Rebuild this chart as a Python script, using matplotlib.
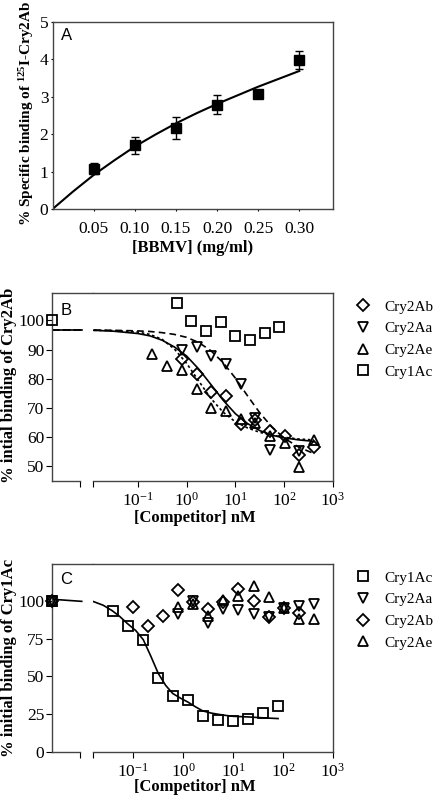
import numpy as np
import matplotlib.pyplot as plt

plt.rcParams['font.family'] = 'Liberation Serif'
plt.rcParams['mathtext.fontset'] = 'custom'
plt.rcParams['mathtext.rm'] = 'Liberation Serif'
plt.rcParams['mathtext.bf'] = 'Liberation Serif:bold'
plt.rcParams['mathtext.default'] = 'regular'
plt.rcParams['axes.linewidth'] = 1.0
plt.rcParams['axes.edgecolor'] = '#444444'

nan = np.nan

# ---------------- panel A data ----------------
bbmv = [0.05, 0.10, 0.15, 0.20, 0.25, 0.30]
binding = [1.08, 1.70, 2.16, 2.79, 3.07, 3.98]
binding_err = [0.15, 0.23, 0.29, 0.26, 0.0, 0.24]
fitA_x = [0.0, 0.025, 0.05, 0.075, 0.10, 0.125, 0.15, 0.175, 0.20, 0.225, 0.25, 0.275, 0.30]
fitA_y = [0.0, 0.47, 0.91, 1.30, 1.67, 1.99, 2.29, 2.56, 2.81, 3.04, 3.27, 3.48, 3.69]

# ---------------- panel B data ----------------
concB = [0.2, 0.4, 0.8, 1.6, 3.2, 6.4, 12.8, 25.6, 51.2, 102.4, 204.8, 409.6]
B_cry2ab = [nan, nan, 86.6, 81.6, 75.3, 74.0, 64.6, 66.0, 62.1, 60.3, 53.7, 56.6]
B_cry2aa = [nan, nan, 89.7, 90.9, 87.7, 85.2, 78.1, 66.4, 55.7, nan, 55.2, nan]
B_cry2ae = [88.6, 84.2, 82.9, 76.6, 69.8, 68.8, 66.3, 64.8, 60.3, 58.0, 49.8, 58.9]
concB_1ac = [0.625, 1.25, 2.5, 5, 10, 20, 40, 80]
B_cry1ac = [105.9, 99.7, 96.2, 99.4, 94.5, 93.4, 95.8, 97.6]
B_control = 100.0

# fitted curves (log10 nM)
fitB_logx = [-1.9, -1.5, -1.0, -0.75, -0.5, -0.25, 0, 0.25, 0.5, 0.75, 1.0, 1.25, 1.5, 1.75, 2.0, 2.3, 2.61]
fitB_2ab = [96.6, 96.3, 95.5, 94.7, 93.2, 90.9, 87.8, 83.3, 78.0, 72.6, 68.0, 64.6, 62.2, 60.6, 59.7, 59.0, 58.5]
fitB_2aa = [96.7, 96.6, 96.4, 96.2, 95.8, 95.2, 94.2, 92.4, 89.6, 85.5, 80.2, 74.1, 68.3, 63.4, 59.6, 56.5, 54.3]
fitB_2ae = [96.6, 96.5, 96.0, 95.2, 93.5, 90.2, 85.3, 79.2, 73.2, 68.5, 65.2, 63.1, 61.6, 60.6, 59.9, 59.3, 59.0]
fitB_top = 96.7

# ---------------- panel C data ----------------
concC_1ac = [0.039, 0.078, 0.156, 0.3125, 0.625, 1.25, 2.5, 5, 10, 20, 40, 80]
C_cry1ac = [93.4, 83.4, 73.8, 48.8, 37.3, 34.7, 23.6, 21.0, 20.3, 21.9, 25.6, 30.3]
concC = [0.1, 0.2, 0.4, 0.8, 1.6, 3.2, 6.4, 12.8, 25.6, 51.2, 102.4, 204.8, 409.6]
C_cry2ab = [95.6, 83.2, 89.9, 107.1, 99.4, 94.3, 99.4, 107.5, 100.0, 89.0, 95.0, 91.6, nan]
C_cry2aa = [nan, nan, nan, 91.2, 100.0, 85.4, 94.3, 93.8, 91.2, 89.0, 95.0, 96.5, 97.8]
C_cry2ae = [nan, nan, nan, 95.6, 97.8, 90.0, 100.4, 103.1, 109.7, 102.6, 95.0, 87.7, 87.7]
C_control = 100.0
fitC_logx = [-1.80, -1.6, -1.42, -1.27, -1.12, -0.95, -0.8, -0.65, -0.5, -0.35, -0.21, -0.05,
             0.09, 0.25, 0.39, 0.55, 0.69, 0.85, 1.0, 1.29, 1.6, 1.9]
fitC_1ac = [99.5, 97.0, 93.4, 89.6, 85.0, 80.3, 74.3, 63.5, 52.0, 44.0, 38.7, 35.5,
            33.1, 29.8, 27.2, 25.8, 25.0, 24.2, 23.6, 23.2, 22.6, 22.1]
fitC_left = [101.0, 99.6]

W, H = 433, 797
fig = plt.figure(figsize=(W / 100, H / 100), dpi=100)


def box(l, t, r, b):
    return [l / W, 1 - b / H, (r - l) / W, (b - t) / H]


tick_fs = 12.5
leg_fs = 11
label_fs = 12
mk = dict(mfc='none', mec='k', mew=1.3, ls='none', color='k')
dec_ticks = [0.1, 1, 10, 100, 1000]
dec_labels = ['$10^{-1}$', '$10^{0}$', '$10^{1}$', '$10^{2}$', '$10^{3}$']

# ================= A =================
axA = fig.add_axes(box(52.6, 22, 333, 209))
axA.errorbar(bbmv, binding, yerr=binding_err, fmt='s', color='k', ms=6.5,
             capsize=3, elinewidth=1, capthick=1)
axA.plot(fitA_x, fitA_y, 'k-', lw=1.5)
axA.set_xlim(0, 0.341)
axA.set_ylim(0, 5)
axA.set_xticks(bbmv)
axA.set_xticklabels(['%.2f' % v for v in bbmv])
axA.set_yticks(range(6))
axA.tick_params(axis='x', length=1.5, labelsize=tick_fs, pad=7)
axA.tick_params(axis='y', length=1.5, labelsize=tick_fs, pad=1.5)
axA.set_xlabel('[BBMV] (mg/ml)', fontsize=label_fs, fontweight='bold', va='center')
axA.xaxis.set_label_coords(0.5, (209 - 248) / 187)
axA.text(0.03, 0.97, 'A', transform=axA.transAxes, fontsize=12,
         family='Liberation Sans', va='top')
fig.text(27 / W, 1 - 113 / H, r'% Specific binding of $^{125}$I-Cry2Ab', rotation=90,
         ha='center', va='center', fontsize=11, fontweight='bold')


def broken_axes(top, bottom, ylim, log_left):
    axL = fig.add_axes(box(52, top, 93.3, bottom))
    axR = fig.add_axes(box(93.3, top, 333, bottom))
    axL.set_xlim(0, 1)
    axL.set_ylim(*ylim)
    axL.spines['right'].set_visible(False)
    axL.spines['bottom'].set_bounds(0, 0.678)
    axL.set_xticks([0.678])
    axL.set_xticklabels([''])
    axL.tick_params(labelsize=tick_fs, length=4, pad=1.5)
    axR.set_xscale('log')
    axR.set_xlim(10 ** log_left, 1000)
    axR.set_ylim(*ylim)
    axR.spines['left'].set_visible(False)
    axR.set_xticks([10 ** log_left] + dec_ticks)
    axR.set_xticklabels([''] + dec_labels)
    axR.minorticks_off()
    axR.tick_params(axis='x', labelsize=tick_fs, length=4, pad=3.5)
    axR.tick_params(axis='y', left=False, labelleft=False)
    return axL, axR


# ================= B =================
axBL, axBR = broken_axes(293.3, 481, (44.9, 109.3), -1.91)
axBL.set_yticks(range(50, 101, 10))
fitBx = 10 ** np.array(fitB_logx)
for ls in ['-', (0, (4, 2.5)), (0, (1.6, 1.6))]:
    axBL.plot([0, 0.726], [fitB_top, fitB_top], color='k', lw=1.2, ls=ls)
axBR.plot(fitBx, fitB_2ab, color='k', lw=1.2, ls='-')
axBR.plot(fitBx, fitB_2aa, color='k', lw=1.2, ls=(0, (4, 2.5)))
axBR.plot(fitBx, fitB_2ae, color='k', lw=1.2, ls=(0, (1.6, 1.6)))
hB1, = axBR.plot(concB, B_cry2ab, marker='D', ms=6, **mk)
hB2, = axBR.plot(concB, B_cry2aa, marker='v', ms=7.5, **mk)
hB3, = axBR.plot(concB, B_cry2ae, marker='^', ms=7.5, **mk)
hB4, = axBR.plot(concB_1ac, B_cry1ac, marker='s', ms=6.5, **mk)
axBL.plot([0], [B_control], marker='s', ms=6.5, clip_on=False, zorder=5, **mk)
axBL.text(0.2, 0.95, 'B', transform=axBL.transAxes, fontsize=12,
          family='Liberation Sans', va='top')
axBR.set_xlabel('[Competitor] nM', fontsize=label_fs, fontweight='bold', va='center')
axBR.xaxis.set_label_coords(0.424, (481 - 518) / 187.7)
fig.text(9 / W, 1 - 385 / H, '% intial binding of Cry2Ab', rotation=90,
         ha='center', va='center', fontsize=label_fs, fontweight='bold')
fig.legend([hB1, hB2, hB3, hB4], ['Cry2Ab', 'Cry2Aa', 'Cry2Ae', 'Cry1Ac'],
           loc='upper left', bbox_to_anchor=(354 / W, 1 - 300 / H), frameon=False,
           fontsize=leg_fs, handlelength=1.2, handletextpad=0.8, labelspacing=0.52,
           borderpad=0, borderaxespad=0)

# ================= C =================
axCL, axCR = broken_axes(564, 752, (0, 124.3), -1.80)
axCL.set_yticks(range(0, 101, 25))
axCL.plot([0, 0.72], fitC_left, color='k', lw=1.2)
axCR.plot(10 ** np.array(fitC_logx), fitC_1ac, color='k', lw=1.2)
hC1, = axCR.plot(concC_1ac, C_cry1ac, marker='s', ms=6.5, **mk)
hC2, = axCR.plot(concC, C_cry2aa, marker='v', ms=7.5, **mk)
hC3, = axCR.plot(concC, C_cry2ab, marker='D', ms=6, **mk)
hC4, = axCR.plot(concC, C_cry2ae, marker='^', ms=7.5, **mk)
for m, s in [('s', 6.5), ('v', 7.5), ('D', 6), ('^', 7.5)]:
    axCL.plot([0], [C_control], marker=m, ms=s, clip_on=False, zorder=5, **mk)
axCL.text(0.2, 0.96, 'C', transform=axCL.transAxes, fontsize=12,
          family='Liberation Sans', va='top')
axCR.set_xlabel('[Competitor] nM', fontsize=label_fs, fontweight='bold', va='center')
axCR.xaxis.set_label_coords(0.424, (752 - 787) / 188)
fig.text(9 / W, 1 - 658 / H, '% initial binding of Cry1Ac', rotation=90,
         ha='center', va='center', fontsize=label_fs, fontweight='bold')
fig.legend([hC1, hC2, hC3, hC4], ['Cry1Ac', 'Cry2Aa', 'Cry2Ab', 'Cry2Ae'],
           loc='upper left', bbox_to_anchor=(354 / W, 1 - 571 / H), frameon=False,
           fontsize=leg_fs, handlelength=1.2, handletextpad=0.8, labelspacing=0.52,
           borderpad=0, borderaxespad=0)

fig.savefig('out.png', dpi=100)
